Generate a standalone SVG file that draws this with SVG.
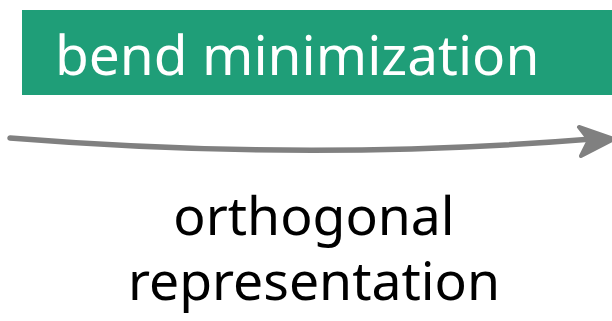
<svg xmlns="http://www.w3.org/2000/svg" width="612" height="321" viewBox="0 0 612 321">
<style>
.lbl{font-family:"Noto Sans","DejaVu Sans",sans-serif;}
.edge{fill:none;stroke:#808080;stroke-width:5.5;stroke-linecap:round;}
.head{fill:#808080;stroke:#808080;stroke-width:4;stroke-linejoin:round;}
</style>
<rect width="612" height="321" fill="#ffffff"/>
<g id="node-bend">
<rect x="22" y="10" width="595" height="85" fill="#1f9e78"/>
<text class="lbl" x="55" y="75" font-size="55" fill="#ffffff">bend minimization</text>
</g>
<g id="connectors">
<path class="edge" d="M10,138 Q310,162 592,139"/>
<path class="head" d="M579,127 L614,139 L581,156 L589,140 Z"/>
</g>
<g id="node-label">
<text class="lbl" x="314" y="235" font-size="53.5" text-anchor="middle" fill="#000000">orthogonal</text>
<text class="lbl" x="314" y="300" font-size="53.5" text-anchor="middle" fill="#000000">representation</text>
</g>
</svg>
